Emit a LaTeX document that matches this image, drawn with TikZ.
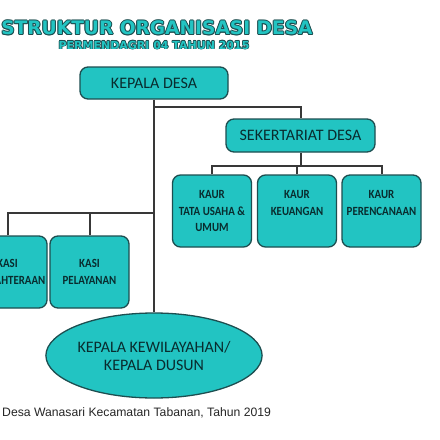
\documentclass[tikz,border=0pt]{standalone}
\usepackage{fontspec}
\setmainfont{Carlito}
\newfontfamily\titlefont{DejaVu Sans}
\newfontfamily\narrowfont{Carlito}[FakeStretch=0.87]
\newfontfamily\notefont{Liberation Sans}
\usetikzlibrary{shapes.geometric}
\definecolor{tealfill}{HTML}{22C4C2}
\definecolor{tealline}{HTML}{1D4E50}
\definecolor{tealtext}{HTML}{092C2E}
\definecolor{linegray}{HTML}{383838}
\tikzset{
  box/.style={draw=tealline, line width=1.3pt, fill=tealfill, rounded corners=8pt,
    text=tealtext, align=center, inner sep=0pt},
  bigbox/.style={box, minimum width=148pt, minimum height=32pt, font=\fontsize{16}{16}\selectfont},
  smallbox/.style={box, minimum width=79pt, minimum height=72pt, font=\narrowfont\bfseries\fontsize{12.5}{16.5}\selectfont},
  link/.style={draw=linegray, line width=2pt},
  headline/.style={font=\titlefont\bfseries\fontsize{18.6}{19}\selectfont, inner sep=0pt},
  subline/.style={font=\titlefont\bfseries\fontsize{11}{11}\selectfont, inner sep=0pt},
}
\begin{document}
\begin{tikzpicture}[x=1pt,y=-1pt]
\useasboundingbox (0,0) rectangle (440,440);
\clip (0,0) rectangle (440,440);
\fill[white] (0,0) rectangle (440,440);
% title with outline
\foreach \dx/\dy in {-1/0,1/0,0/-1,0/1,-.7/-.7,.7/-.7,-.7/.7,.7/.7} {
  \node[headline, text=tealline, xshift=\dx pt, yshift=\dy pt] at (157,28) {STRUKTUR ORGANISASI DESA};
  \node[subline, text=tealline, xshift=.7*\dx pt, yshift=.7*\dy pt] at (154,45) {PERMENDAGRI 04 TAHUN 2015};
}
\node[headline, text=tealfill] (title) at (157,28) {STRUKTUR ORGANISASI DESA};
\node[subline, text=tealfill] (subtitle) at (154,45) {PERMENDAGRI 04 TAHUN 2015};
% boxes
\node[bigbox] (kepala) at (154,83) {KEPALA DESA};
\node[bigbox, minimum width=149pt, minimum height=33pt] (sekr) at (300.5,135.5) {SEKERTARIAT DESA};
\node[smallbox] (kaur1) at (212,211) {KAUR\\TATA USAHA \&\\UMUM};
\node[smallbox] (kaur2) at (297,211) {KAUR\\KEUANGAN\\\mbox{}};
\node[smallbox] (kaur3) at (381.5,211) {KAUR\\PERENCANAAN\\\mbox{}};
\node[smallbox, font=\narrowfont\bfseries\fontsize{12.5}{17}\selectfont] (kasi1) at (7.5,272) {KASI\\KESEJAHTERAAN};
\node[smallbox, font=\narrowfont\bfseries\fontsize{12.5}{17}\selectfont] (kasi2) at (89.5,272) {KASI\\PELAYANAN};
\node[box, ellipse, minimum width=184pt, minimum height=85pt, font=\fontsize{16}{18}\selectfont] (dusun) at (154,355.5) {KEPALA KEWILAYAHAN/\\KEPALA DUSUN};
% connectors
\coordinate (sbar) at (154,107);
\coordinate (kbar) at (300.5,166);
\coordinate (lbar) at (154,213);
\draw[link] (kepala.south) -- (dusun.north);
\draw[link] (sbar) -| (sekr.north);
\draw[link] (sekr.south) -- (kbar);
\draw[link] (kaur1.north) |- (kbar) -| (kaur3.north);
\draw[link] (kaur2.north) -- (kaur2.north |- kbar);
\draw[link] (kasi1.north) |- (lbar);
\draw[link] (kasi2.north) -- (kasi2.north |- lbar);
% source note
\node[anchor=west, inner sep=0pt, font=\notefont\fontsize{12.2}{12.2}\selectfont, text=black!85] (note) at (2,413) {Desa Wanasari Kecamatan Tabanan, Tahun 2019};
\end{tikzpicture}
\end{document}
